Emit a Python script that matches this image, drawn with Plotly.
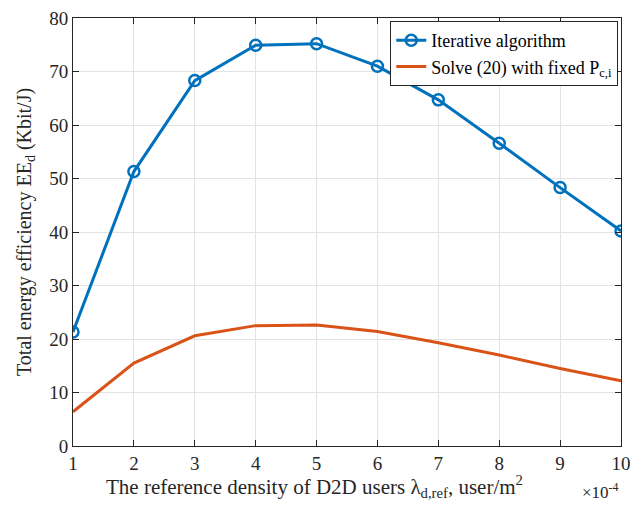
import plotly.graph_objects as go

x_vals = [1, 2, 3, 4, 5, 6, 7, 8, 9, 10]
iterative = [21.3, 51.3, 68.3, 74.9, 75.2, 71.0, 64.7, 56.6, 48.3, 40.2]
fixed_pc = [6.4, 15.5, 20.6, 22.5, 22.6, 21.4, 19.3, 17.0, 14.5, 12.2]
x_ticks = [1, 2, 3, 4, 5, 6, 7, 8, 9, 10]
y_ticks = [0, 10, 20, 30, 40, 50, 60, 70, 80]

FONT = "Liberation Serif, Times New Roman, serif"
BLUE = "#0072BD"
ORANGE = "#D95319"
TXT = "#262626"

fig = go.Figure()
fig.add_trace(go.Scatter(
    x=x_vals, y=iterative, mode="lines+markers", name="Iterative algorithm",
    line=dict(color=BLUE, width=3),
    marker=dict(symbol="circle-open", size=11, color=BLUE, line=dict(width=2.5, color=BLUE)),
))
fig.add_trace(go.Scatter(
    x=x_vals, y=fixed_pc, mode="lines", name="Solve (20) with fixed P<sub>c,i</sub>",
    line=dict(color=ORANGE, width=3),
))

axis_common = dict(
    showline=True, linecolor=TXT, linewidth=1, mirror="ticks",
    ticks="inside", ticklen=6, tickcolor=TXT,
    showgrid=True, gridcolor="#E3E3E3", gridwidth=1, zeroline=False,
    tickfont=dict(family=FONT, size=19, color=TXT), automargin=False,
)

fig.update_layout(
    width=631, height=505,
    margin=dict(l=73, r=10, t=18, b=59),
    paper_bgcolor="white", plot_bgcolor="white",
    font=dict(family=FONT, color=TXT),
    xaxis=dict(range=[1, 10], tickvals=x_ticks, **axis_common),
    yaxis=dict(range=[0, 80], tickvals=y_ticks, **axis_common),
    legend=dict(x=0.995, y=0.993, xanchor="right", yanchor="top",
                bgcolor="white", bordercolor=TXT, borderwidth=1,
                font=dict(family=FONT, size=18, color="black"),
                tracegroupgap=0),
    showlegend=True,
)

fig.add_annotation(x=0.44, y=0, xref="paper", yref="paper", xanchor="center", yanchor="middle",
                   yshift=-40, showarrow=False,
                   text="The reference density of D2D users λ<sub>d,ref</sub>, user/m<sup>2</sup>",
                   font=dict(family=FONT, size=21, color=TXT))
fig.add_annotation(x=0, y=0.5, xref="paper", yref="paper", xanchor="center", yanchor="middle",
                   xshift=-48, textangle=-90, showarrow=False,
                   text="Total energy efficiency EE<sub>d</sub> (Kbit/J)",
                   font=dict(family=FONT, size=20, color=TXT))
fig.add_annotation(x=1.0, y=0, xref="paper", yref="paper", xanchor="right", yanchor="middle",
                   yshift=-45, text="×10<sup>-4</sup>", showarrow=False,
                   font=dict(family=FONT, size=17, color=TXT))

fig.write_html("out.html", config={"displayModeBar": False},
               post_script="document.body.style.margin='0';")
